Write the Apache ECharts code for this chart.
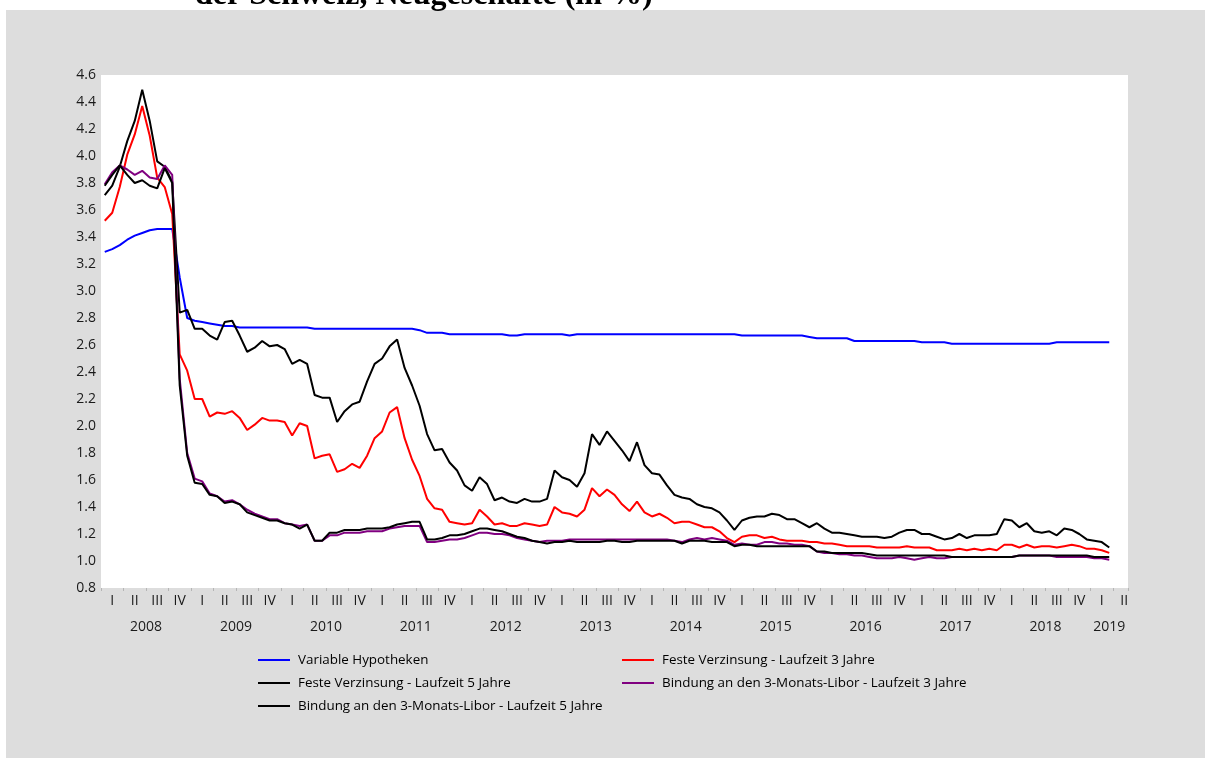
<!DOCTYPE html>
<html><head><meta charset="utf-8">
<script src="https://cdn.jsdelivr.net/npm/echarts@6/dist/echarts.min.js"></script>
<style>
html,body{margin:0;padding:0;background:#fff;width:1212px;height:767px;overflow:hidden;}
#bg{position:absolute;left:6px;top:10px;width:1199px;height:748px;background:#dddddd;}
#chart{position:absolute;left:0;top:0;width:1212px;height:767px;}
</style></head><body>
<div id="bg"></div><div id="chart"></div>
<script>
const titleText = 'der Schweiz, Neugeschäfte (in %)';
const years = ['2008','2009','2010','2011','2012','2013','2014','2015','2016','2017','2018','2019'];
const quarterLabels = ['I','II','III','IV'];
const yTicks = [0.8, 4.6, 0.2]; // min, max, step
const seriesNames = [
  'Variable Hypotheken',
  'Feste Verzinsung - Laufzeit 3 Jahre',
  'Feste Verzinsung - Laufzeit 5 Jahre',
  'Bindung an den 3-Monats-Libor - Laufzeit 3 Jahre',
  'Bindung an den 3-Monats-Libor - Laufzeit 5 Jahre'
];
const seriesColors = ['#0000ff','#ff0000','#000000','#800080','#000000'];

// monthly values, Jan 2008 .. Mar 2019
const variableHypotheken = [
 3.29,3.31,3.34,3.38,3.41,3.43,3.45,3.46,3.46,3.46,
 3.10,2.80,2.78,2.77,2.76,2.75,2.74,2.74,2.73,2.73,
 2.73,2.73,2.73,2.73,2.73,2.73,2.73,2.73,2.72,2.72,
 2.72,2.72,2.72,2.72,2.72,2.72,2.72,2.72,2.72,2.72,
 2.72,2.72,2.71,2.69,2.69,2.69,2.68,2.68,2.68,2.68,
 2.68,2.68,2.68,2.68,2.67,2.67,2.68,2.68,2.68,2.68,
 2.68,2.68,2.67,2.68,2.68,2.68,2.68,2.68,2.68,2.68,
 2.68,2.68,2.68,2.68,2.68,2.68,2.68,2.68,2.68,2.68,
 2.68,2.68,2.68,2.68,2.68,2.67,2.67,2.67,2.67,2.67,
 2.67,2.67,2.67,2.67,2.66,2.65,2.65,2.65,2.65,2.65,
 2.63,2.63,2.63,2.63,2.63,2.63,2.63,2.63,2.63,2.62,
 2.62,2.62,2.62,2.61,2.61,2.61,2.61,2.61,2.61,2.61,
 2.61,2.61,2.61,2.61,2.61,2.61,2.61,2.62,2.62,2.62,
 2.62,2.62,2.62,2.62,2.62];
const festeLaufzeit3 = [
 3.52,3.58,3.77,4.01,4.16,4.37,4.15,3.84,3.77,3.57,
 2.53,2.41,2.20,2.20,2.07,2.10,2.09,2.11,2.06,1.97,
 2.01,2.06,2.04,2.04,2.03,1.93,2.02,2.00,1.76,1.78,
 1.79,1.66,1.68,1.72,1.69,1.78,1.91,1.96,2.10,2.14,
 1.91,1.75,1.63,1.46,1.39,1.38,1.29,1.28,1.27,1.28,
 1.38,1.33,1.27,1.28,1.26,1.26,1.28,1.27,1.26,1.27,
 1.40,1.36,1.35,1.33,1.38,1.54,1.48,1.53,1.49,1.42,
 1.37,1.44,1.36,1.33,1.35,1.32,1.28,1.29,1.29,1.27,
 1.25,1.25,1.22,1.17,1.14,1.18,1.19,1.19,1.17,1.18,
 1.16,1.15,1.15,1.15,1.14,1.14,1.13,1.13,1.12,1.11,
 1.11,1.11,1.11,1.10,1.10,1.10,1.10,1.11,1.10,1.10,
 1.10,1.08,1.08,1.08,1.09,1.08,1.09,1.08,1.09,1.08,
 1.12,1.12,1.10,1.12,1.10,1.11,1.11,1.10,1.11,1.12,
 1.11,1.09,1.09,1.08,1.06];
const festeLaufzeit5 = [
 3.71,3.78,3.92,4.11,4.26,4.49,4.26,3.96,3.92,3.81,
 2.84,2.86,2.72,2.72,2.67,2.64,2.77,2.78,2.67,2.55,
 2.58,2.63,2.59,2.60,2.57,2.46,2.49,2.46,2.23,2.21,
 2.21,2.03,2.11,2.16,2.18,2.33,2.46,2.50,2.59,2.64,
 2.43,2.30,2.15,1.94,1.82,1.83,1.73,1.67,1.56,1.52,
 1.62,1.57,1.45,1.47,1.44,1.43,1.46,1.44,1.44,1.46,
 1.67,1.62,1.60,1.55,1.65,1.94,1.86,1.96,1.89,1.82,
 1.74,1.88,1.71,1.65,1.64,1.56,1.49,1.47,1.46,1.42,
 1.40,1.39,1.36,1.30,1.23,1.30,1.32,1.33,1.33,1.35,
 1.34,1.31,1.31,1.28,1.25,1.28,1.24,1.21,1.21,1.20,
 1.19,1.18,1.18,1.18,1.17,1.18,1.21,1.23,1.23,1.20,
 1.20,1.18,1.16,1.17,1.20,1.17,1.19,1.19,1.19,1.20,
 1.31,1.30,1.25,1.28,1.22,1.21,1.22,1.19,1.24,1.23,
 1.20,1.16,1.15,1.14,1.10];
const liborLaufzeit3 = [
 3.79,3.88,3.93,3.90,3.86,3.89,3.84,3.83,3.93,3.86,
 2.35,1.80,1.61,1.59,1.50,1.48,1.44,1.45,1.42,1.38,
 1.35,1.33,1.31,1.31,1.28,1.27,1.26,1.27,1.15,1.15,
 1.19,1.19,1.21,1.21,1.21,1.22,1.22,1.22,1.24,1.25,
 1.26,1.26,1.26,1.14,1.14,1.15,1.16,1.16,1.17,1.19,
 1.21,1.21,1.20,1.20,1.19,1.17,1.16,1.15,1.14,1.15,
 1.15,1.15,1.16,1.16,1.16,1.16,1.16,1.16,1.16,1.16,
 1.16,1.16,1.16,1.16,1.16,1.16,1.15,1.14,1.16,1.17,
 1.16,1.17,1.16,1.15,1.12,1.13,1.12,1.12,1.14,1.14,
 1.13,1.13,1.12,1.12,1.11,1.07,1.06,1.06,1.05,1.05,
 1.04,1.04,1.03,1.02,1.02,1.02,1.03,1.02,1.01,1.02,
 1.03,1.02,1.02,1.03,1.03,1.03,1.03,1.03,1.03,1.03,
 1.03,1.03,1.04,1.04,1.04,1.04,1.04,1.03,1.03,1.03,
 1.03,1.03,1.02,1.02,1.01];
const liborLaufzeit5 = [
 3.78,3.86,3.93,3.86,3.80,3.82,3.78,3.76,3.91,3.80,
 2.30,1.78,1.58,1.57,1.49,1.48,1.43,1.44,1.42,1.36,
 1.34,1.32,1.30,1.30,1.28,1.27,1.24,1.27,1.15,1.15,
 1.21,1.21,1.23,1.23,1.23,1.24,1.24,1.24,1.25,1.27,
 1.28,1.29,1.29,1.16,1.16,1.17,1.19,1.19,1.20,1.22,
 1.24,1.24,1.23,1.22,1.20,1.18,1.17,1.15,1.14,1.13,
 1.14,1.14,1.15,1.14,1.14,1.14,1.14,1.15,1.15,1.14,
 1.14,1.15,1.15,1.15,1.15,1.15,1.15,1.13,1.15,1.15,
 1.15,1.14,1.14,1.14,1.11,1.12,1.12,1.11,1.11,1.11,
 1.11,1.11,1.11,1.11,1.11,1.07,1.07,1.06,1.06,1.06,
 1.06,1.06,1.05,1.04,1.04,1.04,1.04,1.04,1.04,1.04,
 1.04,1.04,1.04,1.03,1.03,1.03,1.03,1.03,1.03,1.03,
 1.03,1.03,1.04,1.04,1.04,1.04,1.04,1.04,1.04,1.04,
 1.04,1.04,1.03,1.03,1.03];

const seriesData = [variableHypotheken, festeLaufzeit3, festeLaufzeit5, liborLaufzeit3, liborLaufzeit5];

// month categories Jan 2008 .. May 2019 (axis extends into Q2 2019)
const monthCats = [];
years.forEach(y => { for (let m = 1; m <= 12; m++) monthCats.push(y + '-' + String(m).padStart(2, '0')); });
const axisMonths = monthCats.slice(0, 137);

// half-month boundary axis for centred year labels
const halfCats = [];
for (let h = 0; h <= 274; h++) halfCats.push('h' + h);
const yearAt = {};
years.forEach((y, k) => { if (k < 11) yearAt[2 * (6 + 12 * k)] = y; });
yearAt[269] = years[11];

const FONT = 'Open Sans';
const chart = echarts.init(document.getElementById('chart'), null, {renderer: 'canvas'});
chart.setOption({
  animation: false,
  title: {
    text: titleText, left: 195, top: -20, padding: 0,
    textStyle: {fontFamily: 'Liberation Serif', fontWeight: 'bold', fontSize: 32, color: '#000'}
  },
  grid: {left: 101, top: 75, width: 1027, height: 513, show: true, backgroundColor: '#ffffff', borderWidth: 0, containLabel: false},
  xAxis: [{
    type: 'category', data: axisMonths, boundaryGap: true, position: 'bottom',
    axisLine: {show: false},
    axisTick: {show: true, interval: (i) => i % 3 === 0, length: 3, lineStyle: {color: '#b5b5b5', width: 1}},
    axisLabel: {
      interval: (i) => i % 3 === 1, margin: 6,
      formatter: (v, i) => quarterLabels[Math.floor(i / 3) % 4],
      fontFamily: FONT, fontSize: 14, color: '#1a1a1a'
    },
    splitLine: {show: false}
  }, {
    type: 'category', data: halfCats, boundaryGap: false, position: 'bottom', offset: 26,
    axisLine: {show: false}, axisTick: {show: false}, splitLine: {show: false},
    axisLabel: {
      interval: (i) => yearAt[i] !== undefined, margin: 6,
      formatter: (v, i) => yearAt[i] || '',
      fontFamily: FONT, fontSize: 14, color: '#1a1a1a'
    }
  }],
  yAxis: {
    type: 'value', min: yTicks[0], max: yTicks[1], interval: yTicks[2],
    axisLine: {show: false}, axisTick: {show: false}, splitLine: {show: false},
    axisLabel: {formatter: (v) => v.toFixed(1), margin: 5, fontFamily: FONT, fontSize: 14, color: '#1a1a1a'}
  },
  legend: [{
    left: 258, top: 653, padding: 0, orient: 'vertical', itemGap: 9, itemWidth: 32, itemHeight: 2, icon: 'rect',
    data: [seriesNames[0], seriesNames[2], seriesNames[4]],
    textStyle: {fontFamily: FONT, fontSize: 13.4, color: '#000', lineHeight: 14, padding: [0, 0, 0, 3]}
  }, {
    left: 622, top: 653, padding: 0, orient: 'vertical', itemGap: 9, itemWidth: 32, itemHeight: 2, icon: 'rect',
    data: [seriesNames[1], seriesNames[3]],
    textStyle: {fontFamily: FONT, fontSize: 13.4, color: '#000', lineHeight: 14, padding: [0, 0, 0, 3]}
  }],
  series: seriesNames.map((name, k) => ({
    name: name, type: 'line', xAxisIndex: 0, data: seriesData[k],
    symbol: 'none', color: seriesColors[k],
    lineStyle: {width: 2, color: seriesColors[k]},
    itemStyle: {color: seriesColors[k]}
  }))
});
</script>
</body></html>
